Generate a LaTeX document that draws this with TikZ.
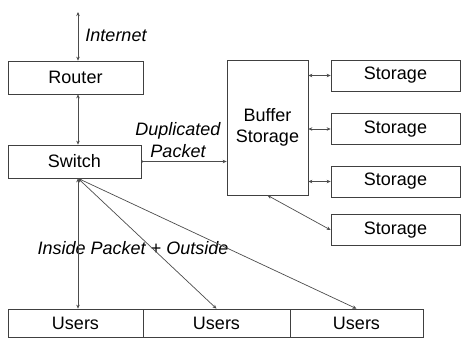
\documentclass[tikz,border=0pt]{standalone}
\usepackage{fontspec}
\setmainfont{Liberation Sans}
\usetikzlibrary{arrows.meta}
\tikzset{
  box/.style={draw=black!75, line width=0.7pt, inner sep=0pt, font=\fontsize{18}{21}\selectfont},
  lbl/.style={font=\fontsize{18}{22}\selectfont\itshape, inner sep=0pt},
  link/.style={draw=black!70, line width=0.7pt, {Stealth[length=4pt,width=3.5pt]}-{Stealth[length=4pt,width=3.5pt]}}
}
\begin{document}
\begin{tikzpicture}[x=1pt,y=-1pt]
	\useasboundingbox (0,0) rectangle (464,338);
	%Coordinates
	\coordinate (inet) at (78,12);
	\coordinate (inside) at (133,248);

	%Boxes
	\node[box, minimum width=135pt, minimum height=33pt] (router) at (75.5,77.5) {Router};
	\node[box, minimum width=133pt, minimum height=33pt] (switch) at (74.5,161.5) {Switch};
	\node[box, minimum width=81pt, minimum height=135pt, align=center] (buffer) at (267.5,127.5) {Buffer\\Storage};
	\node[box, minimum width=129pt, minimum height=31pt] (st1) at (395.5,75.5) {Storage};
	\node[box, minimum width=129pt, minimum height=31pt] (st2) at (395.5,129) {Storage};
	\node[box, minimum width=129pt, minimum height=31pt] (st3) at (395.5,181.5) {Storage};
	\node[box, minimum width=129pt, minimum height=31pt] (st4) at (395.5,230) {Storage};
	\node[box, minimum width=135pt, minimum height=28pt] (users1) at (75.5,323) {Users};
	\node[box, minimum width=147pt, minimum height=28pt] (users2) at (216.5,323) {Users};
	\node[box, minimum width=133pt, minimum height=28pt] (users3) at (356.5,323) {Users};

	%Labels
	\node[lbl] (internet) at (116,35) {Internet};
	\node[lbl, align=center] (dup) at (178,140) {Duplicated\\Packet};
	\node[lbl] (inpk) at (inside) {Inside Packet + Outside};

	%Lines
	\draw[link] (inet) -- (inet |- router.north);%internet
	\draw[link] (router.south -| inet) -- (switch.north -| inet);%router-switch
	\draw[link, {Circle[length=2pt]}-{Stealth[length=4pt,width=3.5pt]}] (switch.east) -- (buffer.west |- switch.east);%duplicated
	\draw[link] (buffer.east |- st1) -- (st1.west);%st1
	\draw[link] (buffer.east |- st2) -- (st2.west);%st2
	\draw[link] (buffer.east |- st3) -- (st3.west);%st3
	\draw[link] (buffer.south) -- (st4.west);%st4
	\draw[link] (switch.south -| inet) -- (users1.north -| inet);%users1
	\draw[link] (switch.south -| inet) -- (users2.north);%users2
	\draw[link] (switch.south -| inet) -- (users3.north);%users3
\end{tikzpicture}
\end{document}
